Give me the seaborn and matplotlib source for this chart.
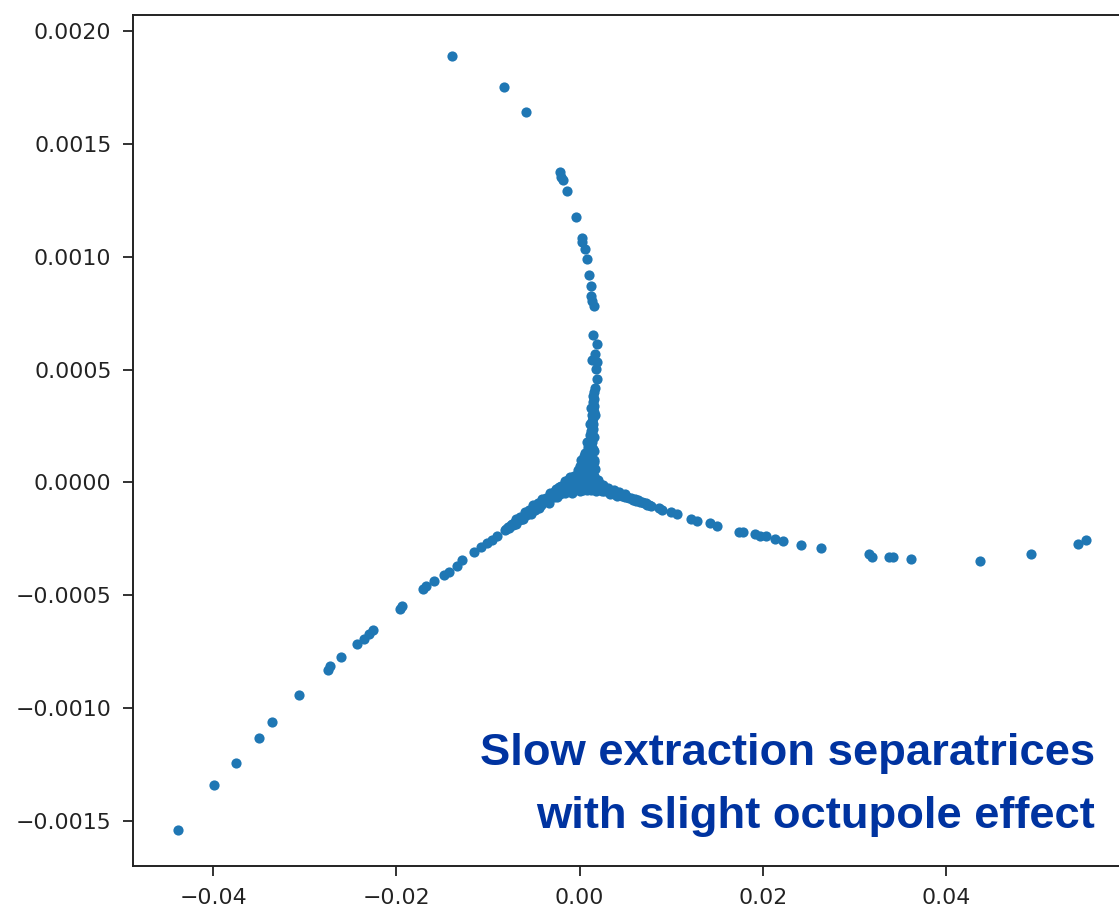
import matplotlib
matplotlib.use("Agg")
import matplotlib.pyplot as plt
import seaborn as sns
import pandas as pd

# ---- data ----
upper_x = [-0.01389, -0.00822, -0.00582, -0.00215, -0.00200, -0.00182, -0.00139, -0.00044,
           0.00022, 0.00029, 0.00062, 0.00084, 0.00101, 0.00123, 0.00123, 0.00131, 0.00153,
           0.00145, 0.00185, 0.00164, 0.00139, 0.00185, 0.00175, 0.00185]
upper_y = [0.001891, 0.001751, 0.001643, 0.001377, 0.001355, 0.001341, 0.001293, 0.001175,
           0.001084, 0.001064, 0.001036, 0.000988, 0.000920, 0.000869, 0.000828, 0.000806, 0.000780,
           0.000651, 0.000614, 0.000570, 0.000543, 0.000533, 0.000504, 0.000459]

stem_x = [0.00155, 0.00150, 0.00158, 0.00148, 0.00155, 0.00145, 0.00152, 0.00140, 0.00150, 0.00138,
          0.00148, 0.00132, 0.00145, 0.00125, 0.00140, 0.00118, 0.00135, 0.00112, 0.00130, 0.00105,
          0.00125, 0.00095, 0.00120, 0.00088, 0.00115, 0.00100, 0.00080, 0.00118, 0.00070, 0.00095,
          0.00112, 0.00060, 0.00085, 0.00105, 0.00050, 0.00075, 0.00100, 0.00120, 0.00040, 0.00065,
          0.00170, 0.00165, 0.00160, 0.00120, 0.00115, 0.00158, 0.00080, 0.00152, 0.00055, 0.00148,
          0.00030, 0.00140, 0.00010, 0.00135, 0.00020, 0.00145, 0.00000, 0.00165, 0.00045, 0.00160]
stem_y = [0.000400, 0.000385, 0.000370, 0.000355, 0.000340, 0.000325, 0.000310, 0.000298, 0.000285, 0.000272,
          0.000260, 0.000250, 0.000238, 0.000228, 0.000218, 0.000208, 0.000198, 0.000190, 0.000180, 0.000172,
          0.000165, 0.000158, 0.000150, 0.000142, 0.000135, 0.000128, 0.000122, 0.000115, 0.000108, 0.000102,
          0.000096, 0.000090, 0.000085, 0.000080, 0.000074, 0.000070, 0.000066, 0.000062, 0.000058, 0.000055,
          0.000420, 0.000300, 0.000200, 0.000330, 0.000260, 0.000140, 0.000180, 0.000100, 0.000130, 0.000070,
          0.000090, 0.000045, 0.000060, 0.000035, 0.000100, 0.000150, 0.000075, 0.000060, 0.000115, 0.000090]

core_x = [-0.0012, -0.0010, -0.0008, -0.0006, -0.0004, -0.0002, 0.0000, 0.0000, 0.0002, 0.0002,
          0.0004, 0.0004, 0.0006, 0.0006, 0.0008, 0.0008, 0.0010, 0.0010, 0.0012, 0.0012,
          0.0014, 0.0014, 0.0016, 0.0016, 0.0018, -0.0014, -0.0018, 0.0002, 0.0006, -0.0002,
          -0.0020, -0.0016, -0.0010, -0.0006, -0.0002, 0.0000, 0.0004, 0.0008, 0.0012, 0.0018,
          0.0022, 0.0024, 0.0020, -0.0022, -0.0008, 0.0016, 0.0010, -0.0004,
          -0.0026, -0.0012, 0.0026, 0.0020, -0.0016, 0.0014]
core_y = [-0.000010, -0.000030, 0.000000, -0.000020, 0.000010, -0.000030, 0.000020, -0.000010, 0.000035, -0.000025,
          0.000005, 0.000045, -0.000020, 0.000025, 0.000000, 0.000050, -0.000025, 0.000020, 0.000040, -0.000005,
          -0.000020, 0.000015, 0.000000, -0.000030, -0.000012, -0.000040, -0.000020, 0.000060, 0.000065, 0.000040,
          -0.000015, 0.000005, 0.000025, 0.000030, 0.000055, -0.000040, -0.000035, -0.000035, -0.000035, -0.000040,
          -0.000005, -0.000040, 0.000010, -0.000050, -0.000045, 0.000030, 0.000065, 0.000025,
          -0.000030, 0.000015, -0.000020, -0.000030, -0.000045, 0.000040]

left_x = [-0.04383, -0.03990, -0.03753, -0.03502, -0.03357, -0.03066, -0.02746, -0.02724, -0.02607,
          -0.02433, -0.02353, -0.02299, -0.02251, -0.01964, -0.01942, -0.01705, -0.01680, -0.01590,
          -0.01481, -0.01426, -0.01342, -0.01280, -0.01153, -0.01080, -0.01007, -0.00952, -0.00898,
          -0.0082, -0.0080, -0.0078, -0.0077, -0.0075, -0.0073, -0.0071, -0.0070, -0.0068, -0.0066,
          -0.0064, -0.0063, -0.0061, -0.0059, -0.0057, -0.0056, -0.0054, -0.0052, -0.0050, -0.0049,
          -0.0047, -0.0045, -0.0043, -0.0042, -0.0040, -0.0038, -0.0036, -0.0035, -0.0033, -0.0031,
          -0.0029, -0.0028, -0.0026, -0.0024, -0.0022, -0.0021, -0.0019, -0.0017, -0.0015,
          -0.0074, -0.0069, -0.0065, -0.0060, -0.0055, -0.0051, -0.0046, -0.0041, -0.0037, -0.0032,
          -0.0027, -0.0023, -0.0018, -0.0062, -0.0053, -0.0044, -0.0034, -0.0025]
left_y = [-0.001538, -0.001339, -0.001241, -0.001132, -0.001062, -0.000943, -0.000830, -0.000814, -0.000774,
          -0.000714, -0.000692, -0.000670, -0.000652, -0.000562, -0.000549, -0.000471, -0.000461, -0.000438,
          -0.000412, -0.000397, -0.000368, -0.000345, -0.000306, -0.000288, -0.000269, -0.000254, -0.000239,
          -0.000212, -0.000208, -0.000198, -0.000204, -0.000190, -0.000188, -0.000176, -0.000184, -0.000170, -0.000166,
          -0.000156, -0.000163, -0.000148, -0.000146, -0.000135, -0.000142, -0.000128, -0.000124, -0.000114, -0.000120,
          -0.000106, -0.000103, -0.000094, -0.000100, -0.000088, -0.000084, -0.000076, -0.000082, -0.000068, -0.000066,
          -0.000058, -0.000064, -0.000050, -0.000048, -0.000040, -0.000046, -0.000034, -0.000030, -0.000024,
          -0.000182, -0.000160, -0.000152, -0.000130, -0.000122, -0.000100, -0.000093, -0.000072, -0.000068, -0.000048,
          -0.000040, -0.000022, -0.000014, -0.000162, -0.000140, -0.000112, -0.000090, -0.000066]

right_x = [0.0020, 0.0022, 0.0024, 0.0026, 0.0028, 0.0030, 0.0032, 0.0034, 0.0036, 0.0038,
           0.0040, 0.0042, 0.0044, 0.0046, 0.0048, 0.0050, 0.0052, 0.0054, 0.0056, 0.0058,
           0.0060, 0.0062, 0.0064, 0.0066, 0.0068, 0.0070, 0.0072, 0.0074, 0.0076, 0.0078,
           0.00865, 0.00902, 0.00993, 0.01066, 0.01211, 0.01276, 0.01422, 0.01502, 0.01738, 0.01786,
           0.01909, 0.01967, 0.02037, 0.02127, 0.02222, 0.02419, 0.02629, 0.03156, 0.03193, 0.03374,
           0.03422, 0.03611, 0.04367, 0.04928, 0.05436, 0.05520,
           0.0025, 0.0031, 0.0037, 0.0043, 0.0049, 0.0027, 0.0033, 0.0041]
right_y = [-0.000018, -0.000026, -0.000022, -0.000032, -0.000028, -0.000038, -0.000034, -0.000044, -0.000040, -0.000050,
           -0.000046, -0.000055, -0.000052, -0.000060, -0.000058, -0.000066, -0.000063, -0.000071, -0.000068, -0.000077,
           -0.000074, -0.000082, -0.000080, -0.000088, -0.000086, -0.000093, -0.000092, -0.000099, -0.000098, -0.000104,
           -0.000112, -0.000124, -0.000132, -0.000142, -0.000161, -0.000171, -0.000178, -0.000194, -0.000220, -0.000220,
           -0.000230, -0.000239, -0.000239, -0.000249, -0.000260, -0.000279, -0.000290, -0.000319, -0.000331, -0.000331,
           -0.000331, -0.000338, -0.000349, -0.000319, -0.000271, -0.000257,
           -0.000012, -0.000024, -0.000034, -0.000042, -0.000050, -0.000040, -0.000050, -0.000060]

x_ticks = [-0.04, -0.02, 0.00, 0.02, 0.04]
y_ticks = [-0.0015, -0.0010, -0.0005, 0.0000, 0.0005, 0.0010, 0.0015, 0.0020]
label_lines = ["Slow extraction separatrices", "with slight octupole effect"]

df = pd.DataFrame({
    "x": upper_x + stem_x + core_x + left_x + right_x,
    "y": upper_y + stem_y + core_y + left_y + right_y,
})

W, H = 1119, 906
fig = plt.figure(figsize=(W / 100, H / 100), dpi=100)
ax = fig.add_axes([133 / W, 40 / H, (1130 - 133) / W, (866 - 15) / H])

sns.scatterplot(data=df, x="x", y="y", s=54, color="#1f77b4", linewidth=0, ax=ax)

ax.set_xlim(-0.04873, 0.06004)
ax.set_ylim(-0.0016993, 0.0020709)
ax.set_xticks(x_ticks)
ax.set_xticklabels([f"{v:.2f}".replace("-", "\u2212") for v in x_ticks])
ax.set_yticks(y_ticks)
ax.set_yticklabels([f"{v:.4f}".replace("-", "\u2212") for v in y_ticks])
ax.set_xlabel("")
ax.set_ylabel("")
ax.tick_params(axis="both", labelsize=15.8, length=7, width=1.3, pad=8.5, color="#222222", labelcolor="#222222")
for sp in ax.spines.values():
    sp.set_linewidth(1.4)
    sp.set_color("#222222")

fig.text(1095 / W, (H - 765) / H, label_lines[0], ha="right", va="baseline",
         fontsize=32.7, fontweight="bold", color="#0033a0", family="Liberation Sans")
fig.text(1095 / W, (H - 828) / H, label_lines[1], ha="right", va="baseline",
         fontsize=32.7, fontweight="bold", color="#0033a0", family="Liberation Sans")

fig.savefig("out.png", dpi=100)
